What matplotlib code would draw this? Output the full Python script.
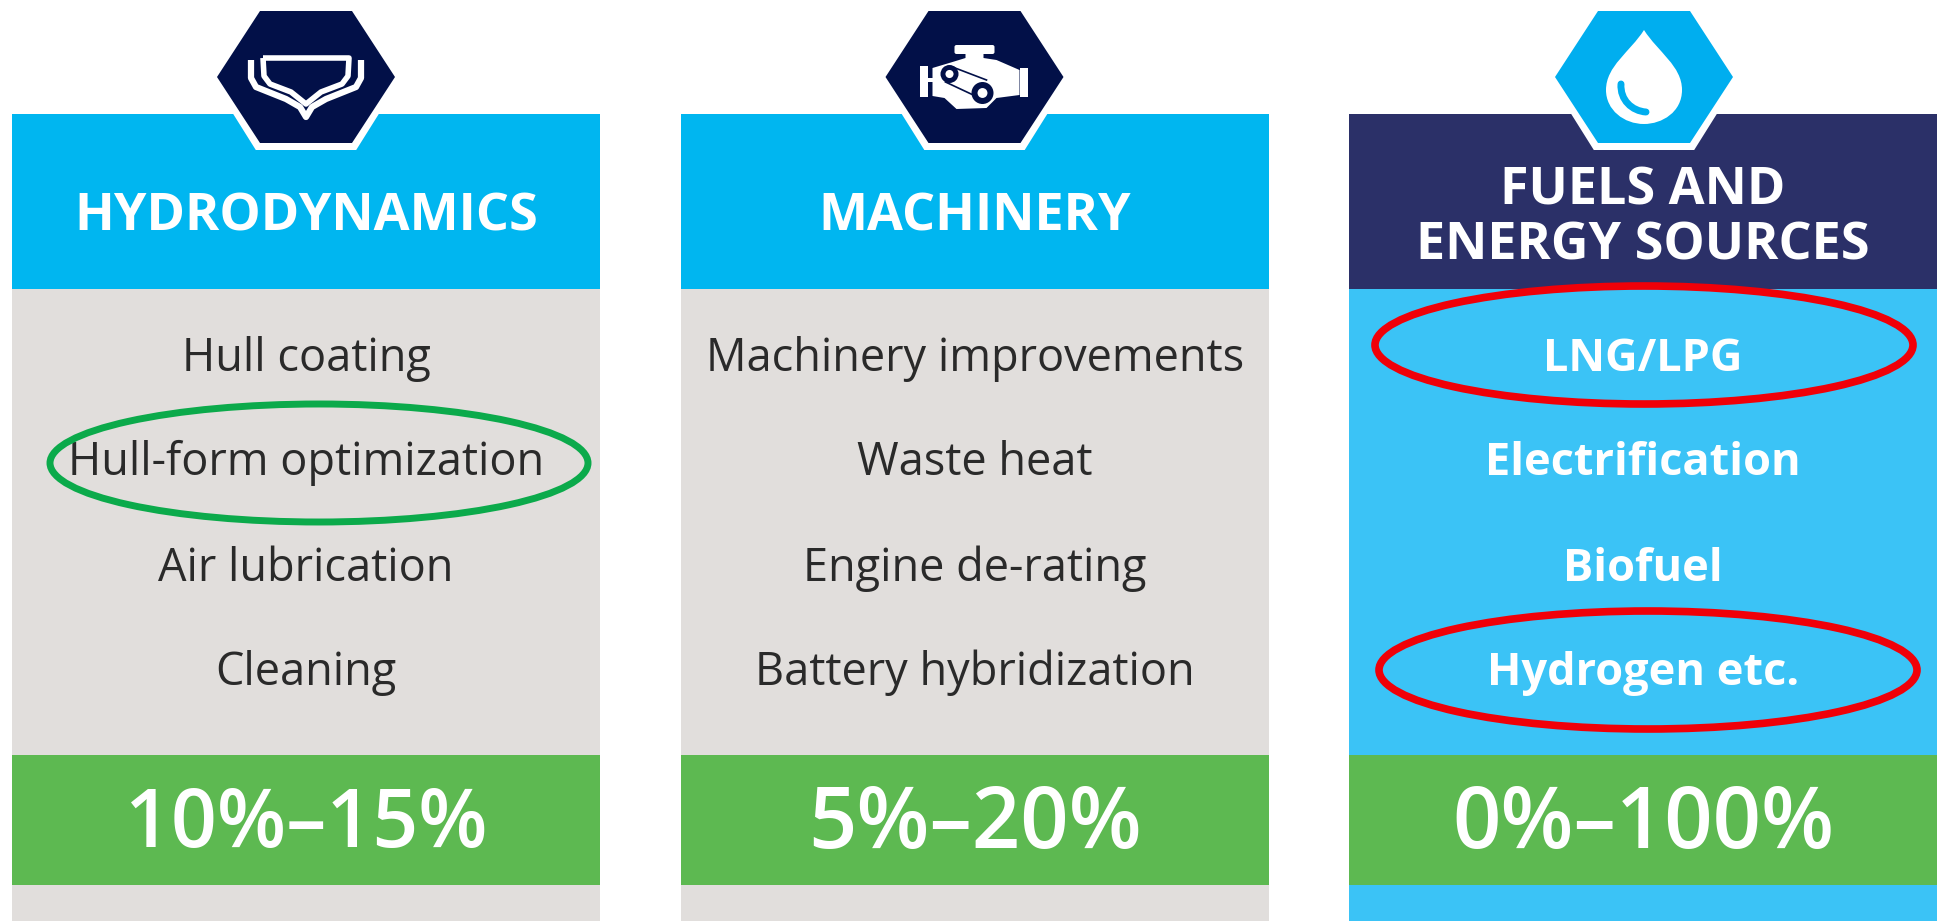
#!/usr/bin/env python3

import matplotlib
matplotlib.use("Agg")
import matplotlib.pyplot as plt
from matplotlib.patches import Polygon, Rectangle, Ellipse, Circle, PathPatch, FancyBboxPatch
from matplotlib.path import Path

W, H = 1937, 921

headers = ["HYDRODYNAMICS", "MACHINERY", "FUELS AND\nENERGY SOURCES"]
items = [
    ["Hull coating", "Hull-form optimization", "Air lubrication", "Cleaning"],
    ["Machinery improvements", "Waste heat", "Engine de-rating", "Battery hybridization"],
    ["LNG/LPG", "Electrification", "Biofuel", "Hydrogen etc."],
]
ranges = ["10%–15%", "5%–20%", "0%–100%"]

panel_left = [12, 681, 1349]
hex_cx = [306, 974.5, 1644]
panel_w = 588
header_bg = ["#00B6F0", "#00B6F0", "#2B3068"]
body_bg = ["#E1DEDC", "#E1DEDC", "#3BC3F6"]
body_fg = ["#2A2A2A", "#2A2A2A", "#FFFFFF"]
hex_bg = ["#021048", "#021048", "#00AEEF"]
item_y = [359, 463, 569, 673]
range_size = [58, 61, 61]

plt.rcParams["font.family"] = ["Open Sans", "DejaVu Sans"]
fig = plt.figure(figsize=(W / 100, H / 100), dpi=100)
ax = fig.add_axes([0, 0, 1, 1])
ax.set_xlim(0, W)
ax.set_ylim(H, 0)
ax.axis("off")


def hexagon(cx, color, grow=0):
    pts = [(cx - 89 - grow, 77), (cx - 46 - grow * .6, 11 - grow), (cx + 46 + grow * .6, 11 - grow),
           (cx + 89 + grow, 77), (cx + 46 + grow * .6, 143 + grow), (cx - 46 - grow * .6, 143 + grow)]
    ax.add_patch(Polygon(pts, closed=True, fc=color, ec="none", zorder=3))


def hull_icon(cx):
    # two nested bow outlines
    outer = Path([(cx - 55, 60), (cx - 55, 78), (cx - 50, 87), (cx - 20, 99), (cx - 6, 107), (cx, 117),
                  (cx + 6, 107), (cx + 20, 99), (cx + 50, 87), (cx + 55, 78), (cx + 55, 60)])
    inner = Path([(cx - 43, 58), (cx - 42, 76), (cx - 36, 84), (cx - 15, 92), (cx, 104),
                  (cx + 15, 92), (cx + 36, 84), (cx + 42, 76), (cx + 43, 58), (cx - 43, 58)])
    ax.add_patch(PathPatch(outer, fc="none", ec="white", lw=4.5, zorder=4, joinstyle="round"))
    ax.add_patch(PathPatch(inner, fc="none", ec="white", lw=4, zorder=4, joinstyle="round"))


def engine_icon(cx):
    pts = [(cx - 42, 68), (cx - 22, 62), (cx - 9, 58), (cx - 9, 50), (cx + 9, 50), (cx + 9, 58),
           (cx + 22, 60), (cx + 45, 70), (cx + 45, 95), (cx + 22, 98), (cx + 12, 108),
           (cx - 18, 109), (cx - 30, 98), (cx - 42, 96)]
    ax.add_patch(Polygon(pts, closed=True, fc="white", ec="none", zorder=4))
    ax.add_patch(FancyBboxPatch((cx - 18, 47), 36, 5, boxstyle="round,pad=2", fc="white", ec="none", zorder=4))
    ax.add_patch(Rectangle((cx - 55, 66), 8, 31, fc="white", ec="none", zorder=4))
    ax.add_patch(Rectangle((cx + 45, 68), 8, 29, fc="white", ec="none", zorder=4))
    ax.add_patch(Rectangle((cx - 49, 78), 8, 4, fc="white", ec="none", zorder=4))
    ax.plot([cx - 22, cx + 12], [67, 80], color="#021048", lw=1.2, zorder=5)
    ax.plot([cx - 29, cx + 3], [82, 97], color="#021048", lw=1.2, zorder=5)
    for x, y, r in [(cx - 25, 74, 9), (cx + 8, 93, 11)]:
        ax.add_patch(Circle((x, y), r, fc="#021048", ec="none", zorder=5))
        ax.add_patch(Circle((x, y), r * .45, fc="white", ec="none", zorder=6))


def drop_icon(cx):
    verts = [(cx, 30), (cx + 14, 52), (cx + 38, 66), (cx + 38, 90), (cx + 38, 112), (cx + 18, 124), (cx, 124),
             (cx - 20, 124), (cx - 38, 110), (cx - 38, 90), (cx - 38, 66), (cx - 14, 52), (cx, 30)]
    codes = [Path.MOVETO] + [Path.CURVE4] * 12
    ax.add_patch(PathPatch(Path(verts, codes), fc="white", ec="none", zorder=4))
    arc = Path([(cx - 23, 84), (cx - 24, 100), (cx - 12, 111), (cx + 2, 112)],
               [Path.MOVETO, Path.CURVE4, Path.CURVE4, Path.CURVE4])
    ax.add_patch(PathPatch(arc, fc="none", ec="#00AEEF", lw=5, capstyle="round", zorder=5))


for i in range(3):
    x0 = panel_left[i]
    ax.add_patch(Rectangle((x0, 114), panel_w, 175, fc=header_bg[i], ec="none", zorder=1))
    ax.add_patch(Rectangle((x0, 289), panel_w, H - 289, fc=body_bg[i], ec="none", zorder=1))
    ax.add_patch(Rectangle((x0, 755), panel_w, 130, fc="#5DB951", ec="none", zorder=2))
    hexagon(hex_cx[i], "white", grow=7)
    hexagon(hex_cx[i], hex_bg[i])
    cx = x0 + panel_w / 2
    ax.text(cx, 217 if i < 2 else 218, headers[i], color="white", fontsize=37.5, fontweight="bold",
            ha="center", va="center", linespacing=1.05, zorder=4)
    for label, y in zip(items[i], item_y):
        ax.text(cx, y, label, color=body_fg[i], fontsize=32.5, ha="center", va="center",
                fontweight="bold" if i == 2 else "normal", zorder=4)
    ax.text(cx, 826, ranges[i], color="white", fontsize=range_size[i], fontweight="semibold",
            ha="center", va="center", zorder=4)

hull_icon(hex_cx[0])
engine_icon(hex_cx[1])
drop_icon(hex_cx[2])

# hand drawn rings
ax.add_patch(Ellipse((319, 463), 538, 118, fc="none", ec="#0BAA4B", lw=5, zorder=7))
ax.add_patch(Ellipse((1644, 345), 538, 118, fc="none", ec="#F00008", lw=5.5, zorder=7))
ax.add_patch(Ellipse((1648, 670), 538, 118, fc="none", ec="#F00008", lw=5.5, zorder=7))

fig.savefig("out.png", dpi=100, facecolor="white")
